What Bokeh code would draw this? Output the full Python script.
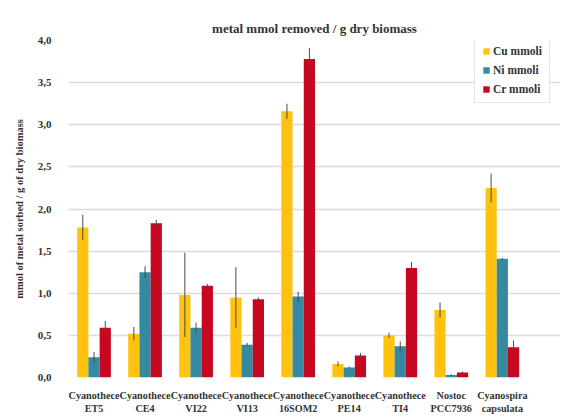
from bokeh.plotting import figure
from bokeh.models import Range1d, FixedTicker, ColumnDataSource, Legend, LegendItem
from bokeh.embed import file_html
from bokeh.resources import INLINE

categories = ["Cyanothece\nET5", "Cyanothece\nCE4", "Cyanothece\nVI22", "Cyanothece\nVI13",
              "Cyanothece\n16SOM2", "Cyanothece\nPE14", "Cyanothece\nTI4", "Nostoc\nPCC7936",
              "Cyanospira\ncapsulata"]
cu = [1.78, 0.52, 0.98, 0.95, 3.16, 0.16, 0.50, 0.80, 2.25]
cu_err = [0.15, 0.08, 0.50, 0.36, 0.09, 0.03, 0.03, 0.09, 0.17]
ni = [0.24, 1.25, 0.59, 0.39, 0.96, 0.12, 0.37, 0.03, 1.41]
ni_err = [0.06, 0.07, 0.06, 0.02, 0.06, 0.01, 0.06, 0.01, 0.01]
cr = [0.59, 1.83, 1.09, 0.93, 3.78, 0.26, 1.30, 0.06, 0.36]
cr_err = [0.08, 0.04, 0.02, 0.02, 0.13, 0.03, 0.07, 0.01, 0.08]
series_names = ["Cu mmoli", "Ni mmoli", "Cr mmoli"]
colors = ["#FFC20E", "#3589A0", "#C5081F"]
y_ticks = [0.0, 0.5, 1.0, 1.5, 2.0, 2.5, 3.0, 3.5, 4.0]

FONT = "Liberation Serif"

p = figure(width=560, height=417, output_backend="svg", toolbar_location=None,
           x_range=Range1d(0, 9.64), y_range=Range1d(0, 4.0),
           min_border_left=68, min_border_right=0, min_border_top=40, min_border_bottom=40,
           title="metal mmol removed / g dry biomass")
p.title.align = "center"
p.title.text_font = FONT
p.title.text_font_size = "13px"
p.title.text_font_style = "bold"
p.title.text_color = "#333333"
p.outline_line_color = None

xs = [i + 0.5 for i in range(len(categories))]
bw = 0.22
offsets = [-bw, 0.0, bw]
items = []
for vals, errs, off, col, name in zip([cu, ni, cr], [cu_err, ni_err, cr_err], offsets, colors, series_names):
    xpos = [x + off for x in xs]
    src = ColumnDataSource(dict(x=xpos, top=vals,
                                lo=[v - e for v, e in zip(vals, errs)],
                                hi=[v + e for v, e in zip(vals, errs)]))
    r = p.vbar(x="x", top="top", width=bw, bottom=0, source=src, fill_color=col, line_color=None)
    p.segment(x0="x", x1="x", y0="lo", y1="hi", source=src, line_color="#4a4a4a", line_width=1)
    items.append(LegendItem(label=name, renderers=[r]))

legend = Legend(items=items, location=(406, 274))
legend.label_text_font = FONT
legend.label_text_font_size = "11.5px"
legend.label_text_font_style = "bold"
legend.label_text_color = "#333333"
legend.glyph_width = 8
legend.glyph_height = 8
legend.label_height = 12
legend.spacing = 7
legend.padding = 7
legend.margin = 0
legend.border_line_color = "#c8c8c8"
legend.label_standoff = 3
p.add_layout(legend)

p.xaxis.ticker = FixedTicker(ticks=xs)
p.xaxis.major_label_overrides = {x: c for x, c in zip(xs, categories)}
p.xaxis.axis_line_color = None
p.xaxis.major_tick_line_color = None
p.xaxis.minor_tick_line_color = None
p.xaxis.major_label_text_font = FONT
p.xaxis.major_label_text_font_size = "10.2px"
p.xaxis.major_label_text_font_style = "bold"
p.xaxis.major_label_text_color = "#333333"
p.xaxis.major_label_standoff = 6
p.xgrid.grid_line_color = None

p.yaxis.ticker = FixedTicker(ticks=y_ticks)
p.yaxis.major_label_overrides = {t: f"{t:.1f}".replace(".", ",") for t in y_ticks}
p.yaxis.axis_line_color = None
p.yaxis.major_tick_line_color = None
p.yaxis.minor_tick_line_color = None
p.yaxis.major_label_text_font = FONT
p.yaxis.major_label_text_font_size = "11px"
p.yaxis.major_label_text_font_style = "bold"
p.yaxis.major_label_text_color = "#333333"
p.yaxis.major_label_standoff = 11
p.yaxis.axis_label = "mmol of metal sorbed / g of dry biomass"
p.yaxis.axis_label_text_font = FONT
p.yaxis.axis_label_text_font_size = "10.5px"
p.yaxis.axis_label_text_font_style = "bold"
p.yaxis.axis_label_text_color = "#333333"
p.yaxis.axis_label_standoff = 10
p.ygrid.grid_line_color = "#dcdcdc"
p.ygrid.grid_line_width = 1.5

open("out.html", "w").write(file_html(p, INLINE))
